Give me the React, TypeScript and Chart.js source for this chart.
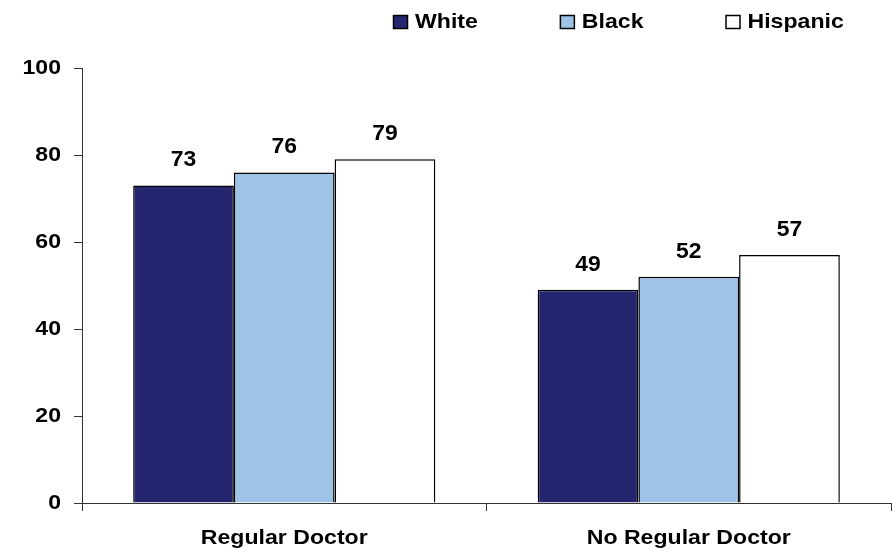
import React, { useEffect, useRef } from 'react';
import { Chart, registerables } from 'chart.js';

Chart.register(...registerables);

const categories = ['Regular Doctor', 'No Regular Doctor'];
const seriesNames = ['White', 'Black', 'Hispanic'];
const whiteValues = [73, 49];
const blackValues = [76, 52];
const hispanicValues = [79, 57];
const yTickValues = [0, 20, 40, 60, 80, 100];

const seriesColors = ['#262670', '#9DC3E6', '#FFFFFF'];
const FONT = '"Liberation Sans", Arial, Helvetica, sans-serif';
const TEXT_SX = 1.1;
const LABEL_SX = 1.04;

const valueLabels = {
  id: 'valueLabels',
  afterDatasetsDraw(chart: any) {
    const ctx = chart.ctx;
    ctx.save();
    const prev = ctx.__sx;
    ctx.__sx = LABEL_SX;
    ctx.font = `bold 22px ${FONT}`;
    ctx.fillStyle = '#000';
    ctx.textAlign = 'center';
    ctx.textBaseline = 'alphabetic';
    chart.data.datasets.forEach((ds: any, i: number) => {
      chart.getDatasetMeta(i).data.forEach((bar: any, j: number) => {
        ctx.fillText(String(ds.data[j]), bar.x, bar.y - 19);
      });
    });
    ctx.__sx = prev;
    ctx.restore();
  },
};

const topLegend = {
  id: 'topLegend',
  afterDraw(chart: any) {
    const ctx = chart.ctx;
    ctx.save();
    ctx.font = `bold 21px ${FONT}`;
    ctx.textAlign = 'left';
    ctx.textBaseline = 'middle';
    let x = 393;
    const boxW = 14;
    const boxH = 13;
    const yMid = 21.5;
    chart.data.datasets.forEach((ds: any) => {
      ctx.fillStyle = ds.backgroundColor;
      ctx.fillRect(x + 0.5, yMid - boxH / 2 + 0.5, boxW, boxH);
      ctx.strokeStyle = '#000';
      ctx.lineWidth = 1.5;
      ctx.strokeRect(x + 0.5, yMid - boxH / 2 + 0.5, boxW, boxH);
      const tx = x + boxW + 8;
      ctx.fillStyle = '#000';
      ctx.fillText(ds.label, tx, yMid + 1);
      const w = ctx.measureText(ds.label).width * TEXT_SX;
      x = tx + w + 82;
    });
    ctx.restore();
  },
};

export default function App() {
  const ref = useRef<HTMLCanvasElement>(null);

  useEffect(() => {
    const canvas = ref.current!;
    const ctx: any = canvas.getContext('2d');
    const origFill = ctx.fillText.bind(ctx);
    ctx.__sx = TEXT_SX;
    ctx.fillText = function (text: string, x: number, y: number, maxWidth?: number) {
      const sx = ctx.__sx || 1;
      ctx.save();
      ctx.translate(x, y);
      ctx.scale(sx, 1);
      if (maxWidth !== undefined) origFill(text, 0, 0, maxWidth / sx);
      else origFill(text, 0, 0);
      ctx.restore();
    };

    const tickFont = { family: FONT, size: 21, weight: 'bold' as const };
    const chart = new Chart(canvas, {
      type: 'bar',
      data: {
        labels: categories,
        datasets: [whiteValues, blackValues, hispanicValues].map((vals, i) => ({
          label: seriesNames[i],
          data: vals,
          backgroundColor: seriesColors[i],
          borderColor: '#000',
          borderWidth: 1.5,
          categoryPercentage: 0.747,
          barPercentage: 1,
        })),
      },
      options: {
        responsive: false,
        animation: false,
        devicePixelRatio: 1,
        layout: { padding: { top: 68, right: 1, left: 0, bottom: 0 } },
        plugins: {
          legend: { display: false },
          tooltip: { enabled: false },
        },
        scales: {
          x: {
            grid: { drawOnChartArea: false, tickLength: 8, color: '#333', offset: true },
            border: { color: '#333', width: 1 },
            ticks: { font: tickFont, color: '#000', padding: 15, maxRotation: 0 },
            afterFit: (s: any) => {
              s.height = 48;
            },
          },
          y: {
            min: 0,
            max: 100,
            grid: { drawOnChartArea: false, tickLength: 8, color: '#333' },
            border: { color: '#333', width: 1 },
            ticks: { font: tickFont, color: '#000', padding: 13 },
            afterBuildTicks: (s: any) => {
              s.ticks = yTickValues.map((v) => ({ value: v }));
            },
            afterFit: (s: any) => {
              s.width = 82;
            },
          },
        },
      },
      plugins: [valueLabels, topLegend],
    });
    return () => chart.destroy();
  }, []);

  return (
    <div style={{ position: 'fixed', left: 0, top: 0, width: 892, height: 551, background: '#fff' }}>
      <canvas ref={ref} width={892} height={551} style={{ display: 'block' }} />
    </div>
  );
}
